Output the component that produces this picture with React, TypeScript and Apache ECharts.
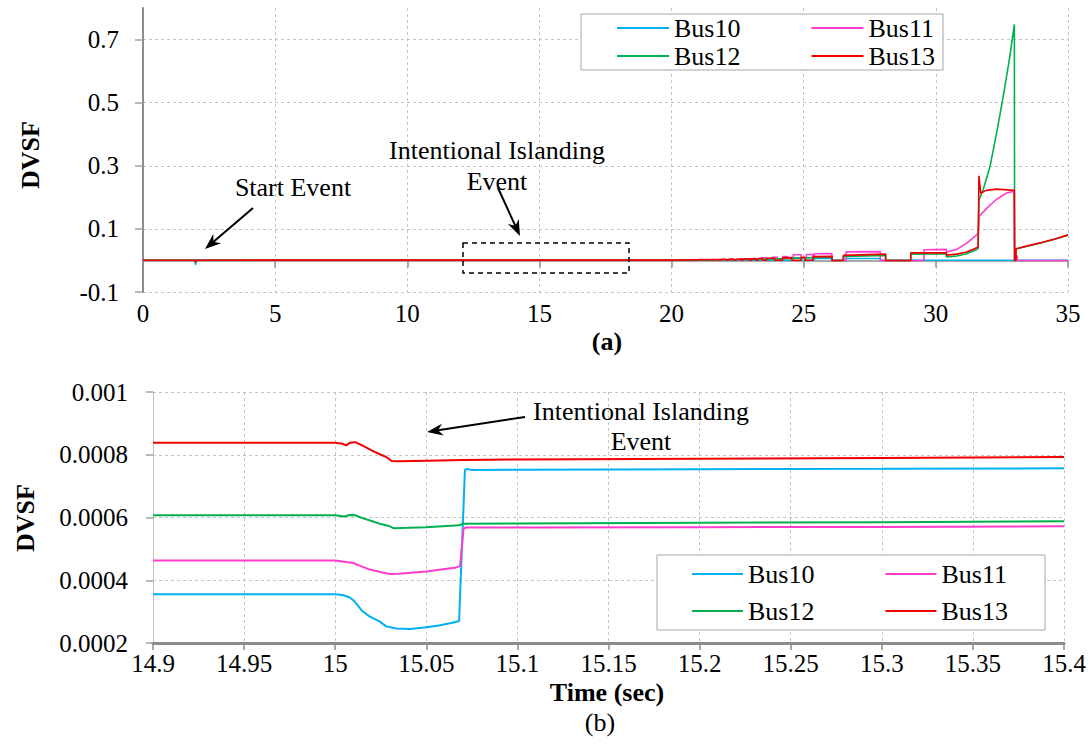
import React, { useEffect, useRef } from "react";
import * as echarts from "echarts";

const SERIES_NAMES = ["Bus10", "Bus11", "Bus12", "Bus13"];
const COLORS = ["#00B0F0", "#FF3CCF", "#00B050", "#F00000"];
const FONT = "Liberation Serif";

// ---- (a) whole simulation, time 0..35 s ----
const topBus10: number[][] = [
  [0, 0.0004], [1.97, 0.0004], [1.99, -0.014], [2.01, 0.0004], [20, 0.0006],
  [24.55, 0.0006], [24.55, 0.008], [24.9, 0.008], [24.9, 0.0006],
  [25.4, 0.0006], [25.4, 0.006], [26.07, 0.006], [26.07, 0.0006],
  [26.6, 0.0006], [26.6, 0.006], [27.9, 0.006], [27.9, 0.0006],
  [31.63, 0.0008], [35, 0.0008],
];
const topBus11: number[][] = [
  [0, 0.00046], [1.97, 0.00046], [1.99, -0.004], [2.01, 0.00046], [20.9, 0.0007],
  [21.0, 0.0007], [21.0, 0.003], [21.15, 0.003], [21.15, 0.001],
  [21.4, 0.001], [21.4, 0.003], [21.55, 0.003], [21.55, 0.0012],
  [21.8, 0.0012], [21.8, 0.004], [21.95, 0.004], [21.95, 0.0015],
  [22.2, 0.0015], [22.2, 0.0045], [22.35, 0.0045], [22.35, 0.002],
  [22.6, 0.002], [22.6, 0.005], [22.8, 0.005], [22.8, 0.0025],
  [23.0, 0.0025], [23.0, 0.006], [23.2, 0.006], [23.2, 0.003],
  [23.4, 0.003], [23.4, 0.008], [23.6, 0.008], [23.6, 0.004],
  [23.8, 0.004], [23.8, 0.01], [24.0, 0.01], [24.0, 0.005],
  [24.2, 0.005], [24.2, 0.012], [24.4, 0.012], [24.4, 0.006],
  [24.6, 0.006], [24.6, 0.018], [24.9, 0.018], [24.9, 0.008],
  [25.1, 0.008], [25.1, 0.019], [25.35, 0.019], [25.35, 0.01],
  [25.4, 0.01], [25.4, 0.021], [26.07, 0.022], [26.07, 0.0],
  [26.6, 0.0], [26.6, 0.027], [27.9, 0.028], [27.9, 0.0],
  [29.55, 0.0], [29.55, 0.034], [30.4, 0.035], [30.4, 0.027],
  [30.79, 0.035], [31.17, 0.055], [31.48, 0.076], [31.6, 0.086],
  [31.63, 0.139], [31.92, 0.165], [32.3, 0.194], [32.68, 0.214], [32.96, 0.219],
  [32.98, 0], [33.03, 0], [33.03, 0.014], [33.08, 0.014], [33.08, 0], [35, 0],
];
const topBus12: number[][] = [
  [0, 0.00061], [1.97, 0.00061], [1.99, -0.005], [2.01, 0.00061], [20, 0.0008],
  [22, 0.002], [23, 0.003], [24, 0.005], [25.1, 0.008], [26.07, 0.011], [26.07, 0],
  [26.5, 0], [26.5, 0.013], [28.1, 0.016], [28.1, 0], [29.05, 0], [29.05, 0.02],
  [30.4, 0.021], [30.4, 0.011], [30.79, 0.014], [31.17, 0.021], [31.48, 0.032], [31.6, 0.038],
  [31.63, 0.192], [31.79, 0.224], [32.05, 0.298], [32.3, 0.404], [32.55, 0.52],
  [32.8, 0.647], [32.97, 0.748], [32.98, 0], [33.03, 0], [33.03, 0.036],
  [33.5, 0.046], [34, 0.056], [34.5, 0.067], [35, 0.08],
];
const topBus13: number[][] = [
  [0, 0.00084], [1.97, 0.00084], [1.99, -0.008], [2.01, 0.00084], [20, 0.001],
  [21.8, 0.003], [21.8, 0.0005], [21.86, 0.0005], [21.86, 0.003],
  [22.08, 0.0033], [22.08, 0.0005], [22.14, 0.0005], [22.14, 0.0035],
  [22.38, 0.0038], [22.38, 0.0005], [22.44, 0.0005], [22.44, 0.004],
  [22.64, 0.0042], [22.64, 0.0005], [22.7, 0.0005], [22.7, 0.0045],
  [22.95, 0.005], [22.95, 0.0005], [23.01, 0.0005], [23.01, 0.005],
  [23.2, 0.0055], [23.2, 0.0005], [23.27, 0.0005], [23.27, 0.006],
  [23.45, 0.0065], [23.45, 0.0005], [23.6, 0.0005], [23.6, 0.007],
  [23.9, 0.0075], [23.9, 0.0005], [24.2, 0.0005], [24.2, 0.008],
  [24.55, 0.009], [24.55, 0.0005], [24.9, 0.0005], [24.9, 0.01],
  [25.05, 0.01], [25.05, 0.0005], [25.35, 0.0005], [25.35, 0.012],
  [26.07, 0.013], [26.07, 0.0], [26.5, 0.0], [26.5, 0.016],
  [28.1, 0.02], [28.1, 0.0], [29.05, 0.0], [29.05, 0.024],
  [30.4, 0.024], [30.4, 0.017], [30.79, 0.02], [31.17, 0.027], [31.48, 0.038], [31.6, 0.043],
  [31.63, 0.268], [31.7, 0.213], [31.9, 0.222], [32.3, 0.226], [32.97, 0.222],
  [32.98, 0], [33.03, 0], [33.03, 0.037], [33.5, 0.047], [34, 0.057], [34.5, 0.068], [35, 0.081],
];

// ---- (b) zoom around the islanding event, time 14.9..15.4 s ----
const bottomBus10: number[][] = [
  [14.9, 0.000355], [15.0, 0.000355], [15.004, 0.000353], [15.008, 0.000345], [15.0106, 0.000333],
  [15.015, 0.000301], [15.0188, 0.000285], [15.0243, 0.000269], [15.028, 0.000253],
  [15.0335, 0.000246], [15.041, 0.000245], [15.05, 0.00025], [15.057, 0.000256],
  [15.0656, 0.000266], [15.068, 0.00027], [15.0712, 0.000752], [15.0725, 0.000755],
  [15.075, 0.000751], [15.1, 0.000752], [15.2, 0.000754], [15.3, 0.000755], [15.4, 0.000757],
];
const bottomBus11: number[][] = [
  [14.9, 0.000463], [15.0, 0.000463], [15.006, 0.000458], [15.01, 0.000455], [15.014, 0.000445],
  [15.019, 0.000434], [15.026, 0.000425], [15.03, 0.00042], [15.035, 0.000421], [15.05, 0.000428],
  [15.0665, 0.000441], [15.0685, 0.000445], [15.0705, 0.000565], [15.072, 0.000568],
  [15.1, 0.000568], [15.2, 0.000569], [15.3, 0.00057], [15.4, 0.000572],
];
const bottomBus12: number[][] = [
  [14.9, 0.000607], [15.0, 0.000607], [15.005, 0.000603], [15.008, 0.000608], [15.011, 0.000607],
  [15.015, 0.000598], [15.02, 0.000589], [15.025, 0.000579], [15.029, 0.000574], [15.032, 0.000566],
  [15.04, 0.000567], [15.05, 0.000569], [15.068, 0.000575], [15.07, 0.00058], [15.1, 0.000581],
  [15.2, 0.000583], [15.3, 0.000585], [15.4, 0.000588],
];
const bottomBus13: number[][] = [
  [14.9, 0.000838], [15.0, 0.000838], [15.004, 0.000835], [15.006, 0.00083], [15.008, 0.000838],
  [15.011, 0.00084], [15.014, 0.000832], [15.02, 0.000814], [15.025, 0.0008], [15.028, 0.000793],
  [15.031, 0.00078], [15.035, 0.000779], [15.05, 0.000781], [15.07, 0.000783], [15.1, 0.000785],
  [15.2, 0.000787], [15.3, 0.00079], [15.4, 0.000793],
];

const TOP_DATA = [topBus10, topBus11, topBus12, topBus13];
const BOTTOM_DATA = [bottomBus10, bottomBus11, bottomBus12, bottomBus13];

function arrow(x1: number, y1: number, x2: number, y2: number) {
  const dx = x2 - x1, dy = y2 - y1;
  const L = Math.hypot(dx, dy);
  const ux = dx / L, uy = dy / L;
  const nx = -uy, ny = ux;
  const len = 16, half = 6;
  const bx = x2 - ux * len, by = y2 - uy * len;
  const kx = x2 - ux * len * 0.7, ky = y2 - uy * len * 0.7;
  return [
    { type: "line", z: 20, shape: { x1, y1, x2: kx, y2: ky }, style: { stroke: "#000", lineWidth: 2 } },
    {
      type: "polygon", z: 20,
      shape: { points: [[x2, y2], [bx + nx * half, by + ny * half], [kx, ky], [bx - nx * half, by - ny * half]] },
      style: { fill: "#000" },
    },
  ];
}

function txt(text: string, x: number, y: number, opts: any = {}) {
  return {
    type: "text", x, y, z: 20, rotation: opts.rotation || 0,
    style: {
      text, fontSize: opts.size || 26, fontFamily: FONT, fontWeight: opts.bold ? "bold" : "normal",
      fill: "#000", align: "center", verticalAlign: "middle",
    },
  };
}

const gridLine = { show: true, lineStyle: { color: "#c4c4c4", type: [3, 3] as any, width: 1 } };
const labelStyle = { color: "#000", fontFamily: FONT, fontSize: 25 };

export default function App() {
  const ref = useRef<HTMLDivElement>(null);
  useEffect(() => {
    if (!ref.current) return;
    const chart = echarts.init(ref.current, undefined, { renderer: "svg" });
    const series: any[] = [];
    SERIES_NAMES.forEach((name, i) => {
      series.push({
        name, type: "line", xAxisIndex: 0, yAxisIndex: 0, data: TOP_DATA[i],
        showSymbol: false, symbol: "none", lineStyle: { width: 1.6, color: COLORS[i] }, itemStyle: { color: COLORS[i] },
      });
    });
    SERIES_NAMES.forEach((name, i) => {
      series.push({
        name, type: "line", xAxisIndex: 2, yAxisIndex: 1, data: BOTTOM_DATA[i],
        showSymbol: false, symbol: "none", lineStyle: { width: 2, color: COLORS[i] }, itemStyle: { color: COLORS[i] },
      });
    });
    const legendBase = {
      selectedMode: false, orient: "horizontal", icon: "rect", itemHeight: 2, z: 30,
      textStyle: { color: "#000", fontFamily: FONT, fontSize: 26 }, padding: 0,
    };
    chart.setOption({
      animation: false,
      textStyle: { fontFamily: FONT },
      grid: [
        { left: 143, top: 8, width: 925, height: 284 },
        { left: 153, top: 392, width: 911, height: 251 },
      ],
      legend: [
        { ...legendBase, data: ["Bus10", "Bus11"], left: 617, top: 15, itemWidth: 52, itemGap: 71 },
        { ...legendBase, data: ["Bus12", "Bus13"], left: 617, top: 43, itemWidth: 52, itemGap: 71 },
        { ...legendBase, data: ["Bus10", "Bus11"], left: 692, top: 561, itemWidth: 51, itemGap: 71 },
        { ...legendBase, data: ["Bus12", "Bus13"], left: 692, top: 598, itemWidth: 51, itemGap: 71 },
      ],
      xAxis: [
        {
          gridIndex: 0, type: "value", min: 0, max: 35, interval: 5, position: "bottom",
          axisLine: { show: true, onZero: true, lineStyle: { color: "#8c8c8c", width: 1.5 } },
          axisTick: { show: true, length: 7, lineStyle: { color: "#8c8c8c", width: 1.5 } },
          axisLabel: { show: false }, splitLine: gridLine,
        },
        {
          gridIndex: 0, type: "value", min: 0, max: 35, interval: 5, position: "bottom",
          axisLine: { show: false, onZero: false }, axisTick: { show: false }, splitLine: { show: false },
          axisLabel: { ...labelStyle, margin: 9 },
        },
        {
          gridIndex: 1, type: "value", min: 14.9, max: 15.4, interval: 0.05, position: "bottom",
          axisLine: { show: true, onZero: false, lineStyle: { color: "#8c8c8c", width: 3 } },
          axisTick: { show: true, length: 7, lineStyle: { color: "#8c8c8c", width: 1.5 } },
          axisLabel: { ...labelStyle, margin: 8, formatter: (v: number) => String(parseFloat(v.toFixed(2))) },
          splitLine: gridLine,
        },
      ],
      yAxis: [
        {
          gridIndex: 0, type: "value", min: -0.1, max: 0.8, interval: 0.2,
          axisLine: { show: true, lineStyle: { color: "#8c8c8c", width: 2 } },
          axisTick: { show: true, length: 8, lineStyle: { color: "#a0a0a0", width: 1.5 } },
          axisLabel: { ...labelStyle, margin: 24, showMaxLabel: false, formatter: (v: number) => v.toFixed(1) },
          splitLine: { ...gridLine, showMaxLine: false },
        },
        {
          gridIndex: 1, type: "value", min: 0.0002, max: 0.001, interval: 0.0002,
          axisLine: { show: true, lineStyle: { color: "#c0c0c0", width: 1 } },
          axisTick: { show: true, length: 7, lineStyle: { color: "#a0a0a0", width: 1.5 } },
          axisLabel: { ...labelStyle, margin: 25, formatter: (v: number) => String(parseFloat(v.toFixed(4))) },
          splitLine: { ...gridLine, showMinLine: false },
        },
      ],
      graphic: [
        { type: "rect", z: 3, shape: { x: 581, y: 14, width: 362, height: 56 }, style: { fill: "#fff", stroke: "#a6a6a6", lineWidth: 1 } },
        { type: "rect", z: 3, shape: { x: 657, y: 555, width: 388, height: 75 }, style: { fill: "#fff", stroke: "#a6a6a6", lineWidth: 1 } },
        { type: "rect", z: 20, shape: { x: 463, y: 243, width: 166, height: 30 }, style: { fill: "none", stroke: "#000", lineWidth: 1.5, lineDash: [5, 4] } },
        txt("DVSF", 30, 155, { bold: true, rotation: Math.PI / 2 }),
        txt("DVSF", 25, 518, { bold: true, rotation: Math.PI / 2 }),
        txt("Start Event", 293, 187),
        txt("Intentional Islanding", 497, 150),
        txt("Event", 497, 181),
        txt("Intentional Islanding", 641, 411),
        txt("Event", 641, 441),
        txt("(a)", 607, 341, { bold: true }),
        txt("Time (sec)", 607, 692, { bold: true }),
        txt("(b)", 600, 722),
        ...arrow(253, 208, 205, 249),
        ...arrow(498, 188, 520, 236),
        ...arrow(525, 417, 427, 432),
      ],
      series,
    });
    return () => chart.dispose();
  }, []);
  return <div ref={ref} style={{ position: "absolute", left: 0, top: 0, width: 1090, height: 749, background: "#fff" }} />;
}
